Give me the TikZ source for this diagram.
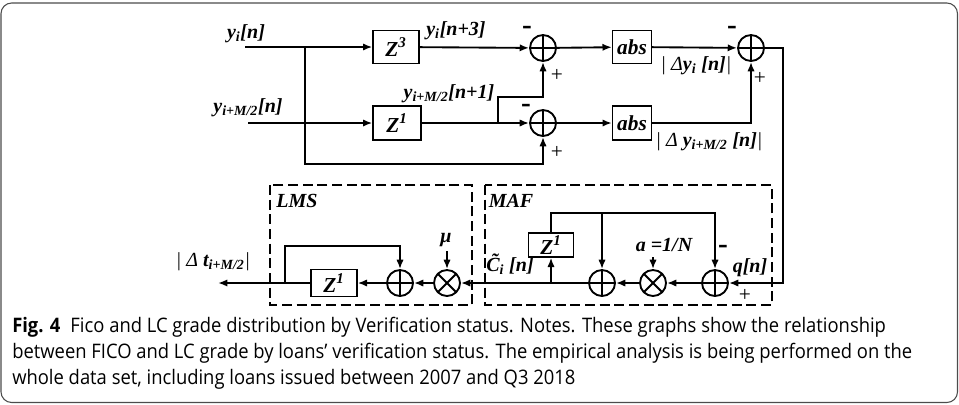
\documentclass[tikz,border=0pt]{standalone}
\usepackage{fontspec}
\setmainfont{Open Sans}[FakeStretch=0.92]
\newfontfamily\tnr{Liberation Serif}
\usetikzlibrary{arrows.meta}

\begin{document}
\begin{tikzpicture}[x=0.75pt,y=-0.75pt,
  sig/.style={line width=1.4pt,-{Latex[length=7pt,width=5.5pt]}},
  blk/.style={draw,line width=1pt,inner sep=0pt,font=\tnr\bfseries\itshape\fontsize{16}{16}\selectfont},
  sumc/.style={circle,draw,line width=1.4pt,minimum size=19.5pt,inner sep=0pt,
    path picture={\draw[line width=1.4pt] (path picture bounding box.north) -- (path picture bounding box.south)
      (path picture bounding box.west) -- (path picture bounding box.east);}},
  mulc/.style={circle,draw,line width=1.4pt,minimum size=19.5pt,inner sep=0pt,
    path picture={\draw[line width=1.4pt] (path picture bounding box.north west) -- (path picture bounding box.south east)
      (path picture bounding box.north east) -- (path picture bounding box.south west);}},
  lbl/.style={inner sep=0pt,font=\tnr\bfseries\itshape\fontsize{15}{15}\selectfont},
  sgn/.style={inner sep=0pt,font=\tnr\fontsize{16}{16}\selectfont},
  neg/.style={inner sep=0pt,font=\tnr\bfseries\fontsize{22}{22}\selectfont},
  grp/.style={line width=1.4pt,dash pattern=on 7.5pt off 3.5pt}]
\useasboundingbox (0,0) rectangle (959,404);
\draw[line width=0.8pt,black!70,rounded corners=8pt] (1,3) rectangle (957.5,402.5);

% inputs and delays
\node[lbl] (lyi) at (246,34) {y\textsubscript{i}[n]};
\node[lbl] (lym) at (248,108) {y\textsubscript{i+M/2}[n]};
\coordinate (in1) at (245,47);
\coordinate (in2) at (248,123);
\node[blk,minimum width=34.5pt,minimum height=24.75pt] (z3) at (396,47) {Z\textsuperscript{3}};
\node[blk,minimum width=36pt,minimum height=25.5pt] (z1) at (397,123) {Z\textsuperscript{1}};
\node[sumc] (s1) at (543,48) {};
\node[sumc] (s2) at (543,123) {};
\node[lbl] (lyd3) at (456,31) {y\textsubscript{i}[n+3]};
\node[lbl] (lyd1) at (449,94) {y\textsubscript{i+M/2}[n+1]};
\coordinate (br1) at (305,47);
\coordinate (bot) at (305,164);
\coordinate (br3) at (498,123);
\coordinate (br4) at (498,97);
\draw[sig] (in1) -- (z3);
\draw[sig] (in2) -- (z1);
\draw[sig] (br1) -- (bot) -| (s2);
\draw[sig] (z3) -- (s1);
\draw[sig] (z1) -- (s2);
\draw[sig] (br3) -- (br4) -| (s1);
\node[neg] (m1a) at (527,30) {-};
\node[sgn] (p1a) at (557,75) {+};
\node[neg] (m2a) at (526,108) {-};
\node[sgn] (p2a) at (557,152) {+};

% absolute values
\node[blk,minimum width=29.25pt,minimum height=24.75pt] (ab1) at (632,47) {abs};
\node[blk,minimum width=29.25pt,minimum height=25.5pt] (ab2) at (632,123) {abs};
\node[sumc] (s3) at (751,48) {};
\draw[sig] (s1) -- (ab1);
\draw[sig] (s2) -- (ab2);
\draw[sig] (ab1) -- (s3);
\draw[sig] (ab2) -| (s3);
\node[lbl] (ld1) at (696,66) {{\mdseries |~}{\mdseries Δ}y\textsubscript{i}~[n]{\mdseries |}};
\node[lbl] (ld2) at (709,142) {{\mdseries |~}{\mdseries Δ}~y\textsubscript{i+M/2}~[n]{\mdseries |}};
\node[neg] (m3a) at (732,30) {-};
\node[sgn] (p3a) at (760,78) {+};

% MAF
\draw[grp] (485,185) rectangle (772,305);
\node[lbl] (lmaf) at (511,201) {MAF};
\node[sumc] (m3) at (715,283) {};
\node[mulc] (mm) at (653,283) {};
\node[sumc] (m1) at (602,283) {};
\node[blk,minimum width=34pt,minimum height=18pt] (zm) at (551,245) {Z\textsuperscript{1}};
\coordinate (cR) at (783,283);
\coordinate (cz) at (551,283);
\coordinate (tl) at (602,213);
\coordinate (aN) at (653,257);
\draw[sig] (s3) -| (cR) -- (m3);
\draw[sig] (m3) -- (mm);
\draw[sig] (mm) -- (m1);
\draw[sig] (cz) -- (zm);
\draw[sig] (zm) |- (tl) -| (m3);
\draw[sig] (tl) -- (m1);
\draw[sig] (aN) -- (mm);
\node[lbl] (la) at (664,245) {a =1/N};
\node[lbl] (lq) at (750,268) {q[n]};
\node[lbl] (lc) at (510,264) {\~{C}\textsubscript{i}~[n]};
\node[neg] (m4a) at (723,249) {-};
\node[sgn] (p4a) at (745,295) {+};

% LMS
\draw[grp] (270,185) rectangle (472,305);
\node[lbl] (llms) at (297,201) {LMS};
\node[mulc] (l2) at (447,283) {};
\node[sumc] (l1) at (400,283) {};
\node[blk,minimum width=34.5pt,minimum height=20pt] (zl) at (334,283) {Z\textsuperscript{1}};
\coordinate (mu) at (447,251);
\coordinate (lb) at (285,283);
\coordinate (lt) at (285,246);
\coordinate (out) at (218,283);
\draw[sig] (m1) -- (l2);
\draw[sig] (mu) -- (l2);
\draw[sig] (l2) -- (l1);
\draw[sig] (l1) -- (zl);
\draw[sig] (zl) -- (out);
\draw[sig] (lb) -- (lt) -| (l1);
\node[lbl] (lmu) at (446,240) {μ};
\node[lbl] (lout) at (213,262) {{\mdseries |~Δ}~t\textsubscript{i+M/2}{\mdseries |}};

% caption
\node[anchor=north west,inner sep=0pt,align=left,font=\fontsize{15}{19.5}\selectfont] (cap) at (12,317)
  {\textbf{Fig. 4}\enspace Fico and LC grade distribution by Verification status. Notes. These graphs show the relationship\\
   between FICO and LC grade by loans’ verification status. The empirical analysis is being performed on the\\
   whole data set, including loans issued between 2007 and Q3 2018};
\end{tikzpicture}
\end{document}
